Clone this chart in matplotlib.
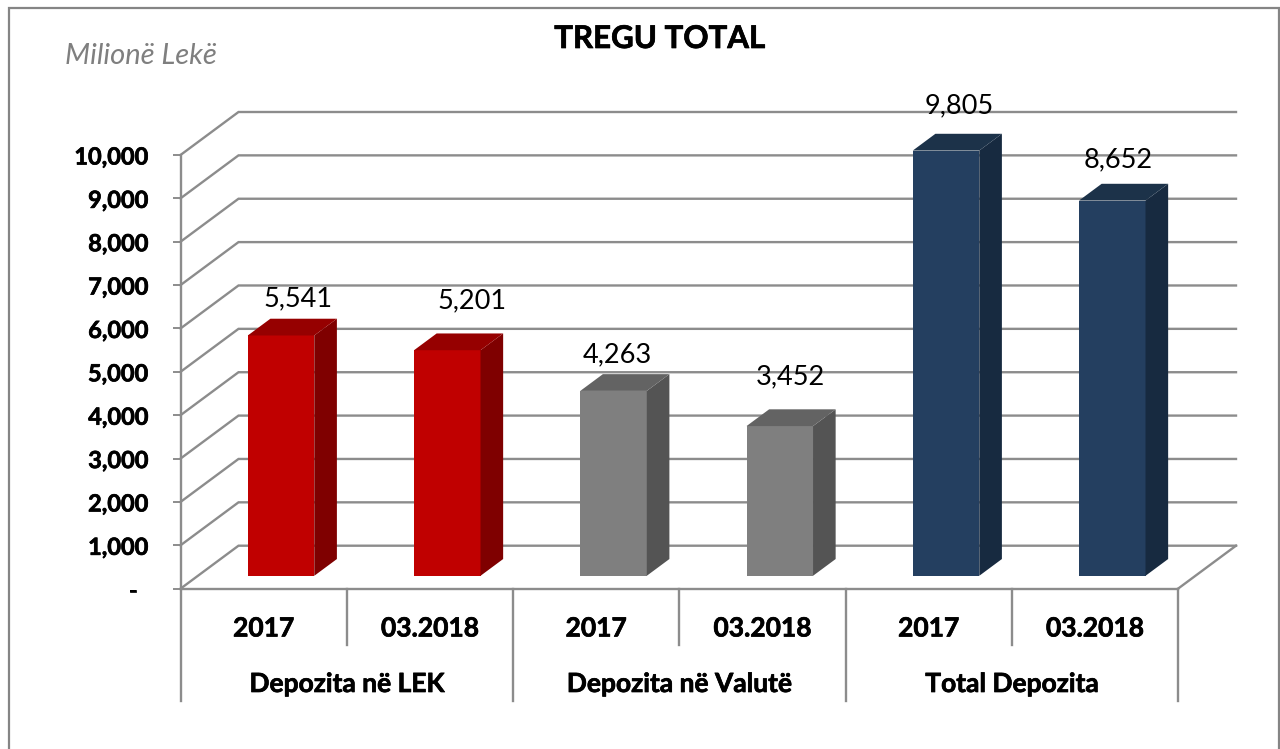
#!/usr/bin/python3
import matplotlib
matplotlib.use('Agg')
import matplotlib.pyplot as plt
import matplotlib.patheffects as pe
from matplotlib.patches import Rectangle

plt.rcParams['font.family'] = ['Lato', 'DejaVu Sans']

# data
periods = ['2017', '03.2018', '2017', '03.2018', '2017', '03.2018']
groups = ['Depozita në LEK', 'Depozita në Valutë', 'Total Depozita']
values = [5541, 5201, 4263, 3452, 9805, 8652]
y_ticks = [0, 1000, 2000, 3000, 4000, 5000, 6000, 7000, 8000, 9000, 10000]

# colours per group: front, side, top
fronts = ['#C00000', '#C00000', '#7F7F7F', '#7F7F7F', '#243F60', '#243F60']
sides = ['#7F0000', '#7F0000', '#545454', '#545454', '#172A40', '#172A40']
tops = ['#960000', '#960000', '#636363', '#636363', '#1C3249', '#1C3249']

# label offsets from the top of the bar front, in points (placed by hand, like in the original)
label_dx = [12.5, 17.5, 2.5, 7.5, 9.5, 4]
label_dy = [26.5, 35.5, 26, 35.5, 32, 29.5]

W, H = 1280, 749
GRID = '#8C8C8C'

# front wall of the fake 3D box, in pixels
left, right, y0, y10k = 180.5, 1178, 588.7, 155

fig = plt.figure(figsize=(W / 100, H / 100), dpi=100)
ax = fig.add_axes([left / W, 1 - y0 / H, (right - left) / W, (y0 - y10k) / H])
ax.set_xlim(0, 6)
ax.set_ylim(0, 10000)
ax.patch.set_visible(False)

# depth of the box, in data units
DX = 58 / ((right - left) / 6)
DY = 43 / ((y0 - y10k) / 10000)
BAR_W = 0.4
D_FRONT, D_BACK = 0.3, 0.69

# Lato bold is lighter than the original face, thicken it a little
heavy = [pe.withStroke(linewidth=0.5, foreground='black')]

# chart frame, open at the bottom
fig.add_artist(Rectangle((8.5 / W, -0.02), 1270 / W, 1.02 - 8.5 / H, fill=False,
                         edgecolor='#858585', linewidth=1.6, transform=fig.transFigure))

# gridlines on the side and back wall
for v in y_ticks:
    ax.plot([0, DX, 6 + DX], [v, v + DY, v + DY], color=GRID, lw=1.7, clip_on=False,
            zorder=1, solid_joinstyle='miter')
ax.plot([6, 6 + DX], [0, DY], color=GRID, lw=1.7, clip_on=False, zorder=1)

# bars
xs = [i + 0.5 + D_FRONT * DX for i in range(len(values))]
base = D_FRONT * DY
step_x = (D_BACK - D_FRONT) * DX
step_y = (D_BACK - D_FRONT) * DY
ax.bar(xs, values, width=BAR_W, bottom=base, color=fronts, zorder=3, clip_on=False)
for x, v, side, top, ldx, ldy in zip(xs, values, sides, tops, label_dx, label_dy):
    xr = x + BAR_W / 2
    xl = x - BAR_W / 2
    ytop = v + base
    ax.fill([xr, xr + step_x, xr + step_x, xr], [base, base + step_y, ytop + step_y, ytop],
            color=side, lw=0, zorder=3, clip_on=False)
    ax.fill([xl, xr, xr + step_x, xl + step_x], [ytop, ytop, ytop + step_y, ytop + step_y],
            color=top, lw=0, zorder=3, clip_on=False)
    # annotation_clip off, 9,805 sits above the y limit
    ax.annotate('{:,}'.format(v), (x, ytop), xytext=(ldx, ldy), textcoords='offset points',
                ha='center', va='center', fontsize=19.5, color='black', zorder=5,
                annotation_clip=False)

# axes
for s in ['top', 'right']:
    ax.spines[s].set_visible(False)
for s in ['left', 'bottom']:
    ax.spines[s].set_color(GRID)
    ax.spines[s].set_linewidth(1.7)
    ax.spines[s].set_zorder(2)

ax.set_yticks(y_ticks)
ax.set_yticklabels(['-  '] + ['{:,}'.format(v) for v in y_ticks[1:]])
ax.tick_params(axis='y', length=6, width=1.4, color=GRID, pad=17, labelsize=17)
for lab in ax.get_yticklabels():
    lab.set_fontweight('bold')
    lab.set_path_effects(heavy)

ax.set_xticks([i + 0.5 for i in range(6)])
ax.set_xticklabels(periods)
ax.tick_params(axis='x', length=0, pad=20, labelsize=19)
for lab in ax.get_xticklabels():
    lab.set_fontweight('bold')
    lab.set_path_effects(heavy)

# two level category axis, separators hang below the floor
trans = ax.get_xaxis_transform()
px = 1 / (y0 - y10k)
for x in [0, 2, 4, 6]:
    ax.plot([x, x], [0, -(701 - y0) * px], color=GRID, lw=1.7, transform=trans, clip_on=False)
for x in [1, 3, 5]:
    ax.plot([x, x], [0, -(645 - y0) * px], color=GRID, lw=1.7, transform=trans, clip_on=False)
for i, g in enumerate(groups):
    ax.text(2 * i + 1, -(684 - y0) * px, g, transform=trans, ha='center', va='center',
            fontsize=19, fontweight='bold', path_effects=heavy)

fig.text(660 / W, 1 - 39 / H, 'TREGU TOTAL', ha='center', va='center', fontsize=22.5,
         fontweight='bold', color='black', path_effects=heavy)
fig.text(65 / W, 1 - 56 / H, 'Milionë Lekë', ha='left', va='center', fontsize=21,
         fontstyle='italic', color='#7F7F7F')

fig.savefig('out.png', dpi=100)
